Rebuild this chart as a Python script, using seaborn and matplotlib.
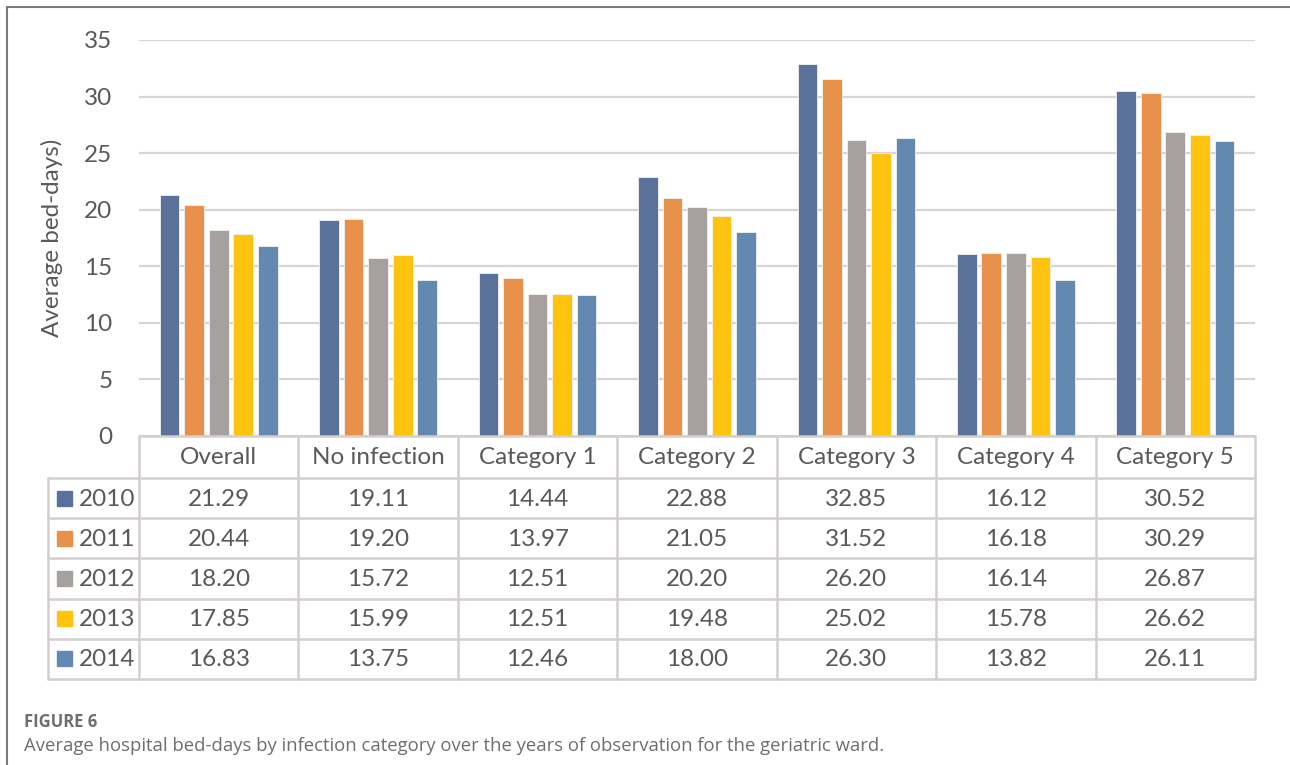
import matplotlib
matplotlib.use("Agg")
import matplotlib.pyplot as plt
import seaborn as sns
import pandas as pd
import numpy as np
from matplotlib.patches import Rectangle
from matplotlib.lines import Line2D

categories = ["Overall", "No infection", "Category 1", "Category 2", "Category 3", "Category 4", "Category 5"]
years = ["2010", "2011", "2012", "2013", "2014"]
v2010 = [21.29, 19.11, 14.44, 22.88, 32.85, 16.12, 30.52]
v2011 = [20.44, 19.20, 13.97, 21.05, 31.52, 16.18, 30.29]
v2012 = [18.20, 15.72, 12.51, 20.20, 26.20, 16.14, 26.87]
v2013 = [17.85, 15.99, 12.51, 19.48, 25.02, 15.78, 26.62]
v2014 = [16.83, 13.75, 12.46, 18.00, 26.30, 13.82, 26.11]
yticks = [0, 5, 10, 15, 20, 25, 30, 35]
colors = ["#5A7299", "#E8914A", "#A6A09E", "#FFC20F", "#6389B1"]

series = [v2010, v2011, v2012, v2013, v2014]
rows = []
for y, vals in zip(years, series):
    for c, v in zip(categories, vals):
        rows.append({"category": c, "year": y, "value": v})
df = pd.DataFrame(rows)

sns.set_theme(style="white")
plt.rcParams["font.family"] = ["Lato", "DejaVu Sans"]
TXT = "#595959"
FS = 17.5

W, H = 1290, 765
fig = plt.figure(figsize=(W / 100, H / 100), dpi=100)

def fx(px):
    return px / W

def fy(py):
    return 1 - py / H

# main bar axes
L, R, T, B = 139, 1255, 40, 436
ax = fig.add_axes([fx(L), fy(B), fx(R - L), (B - T) / H])
sns.barplot(data=df, x="category", y="value", hue="year", order=categories,
            hue_order=years, palette=colors, saturation=1, width=0.77, gap=0.2,
            edgecolor="#F2F2F2", linewidth=0.6, legend=False, ax=ax, zorder=3)
ax.set_xlim(-0.5, len(categories) - 0.5)
ax.set_ylim(0, 35)
ax.set_yticks(yticks)
ax.set_yticklabels([str(t) for t in yticks], fontsize=FS, color=TXT)
ax.tick_params(axis="y", length=0, pad=19)
ax.set_xticks([])
ax.set_xlabel("")
ax.set_ylabel("Average bed-days)", fontsize=FS, color=TXT)
ax.yaxis.set_label_coords((63 - L) / (R - L), 0.5)
for s in ax.spines.values():
    s.set_visible(False)
ax.grid(axis="y", color="#D9D4D2", linewidth=1.6, zorder=0)
ax.set_axisbelow(True)

# data table axes
TT, TB = 436, 679
tax = fig.add_axes([fx(L), fy(TB), fx(R - L), (TB - TT) / H])
tax.set_xlim(-0.5, len(categories) - 0.5)
tax.set_ylim(TB - TT, 0)
tax.axis("off")
unit = (R - L) / len(categories)
left_x = -0.5 - (L - 48) / unit
head_h = 42
row_h = (TB - TT - head_h) / len(years)
lc = "#D4CFCD"
lw = 1.8
tax.add_line(Line2D([-0.5, 6.5], [0, 0], color=lc, lw=lw, clip_on=False))
for k in range(len(years) + 1):
    yy = head_h + k * row_h
    tax.add_line(Line2D([left_x, 6.5], [yy, yy], color=lc, lw=lw, clip_on=False))
for i in range(len(categories) + 1):
    xx = -0.5 + i
    tax.add_line(Line2D([xx, xx], [0, TB - TT], color=lc, lw=lw, clip_on=False))
tax.add_line(Line2D([left_x, left_x], [head_h, TB - TT], color=lc, lw=lw, clip_on=False))

for i, c in enumerate(categories):
    tax.text(i, head_h / 2 + 1, c, ha="center", va="center", fontsize=FS, color=TXT, clip_on=False)
for k, (y, vals, col) in enumerate(zip(years, series, colors)):
    yc = head_h + (k + 0.5) * row_h
    sq = 15 / unit
    tax.add_patch(Rectangle((left_x + 9 / unit, yc - 7.5), sq, 15, color=col, clip_on=False))
    tax.text(left_x + 31 / unit, yc + 1, y, ha="left", va="center", fontsize=FS, color=TXT, clip_on=False)
    for i, v in enumerate(vals):
        tax.text(i, yc + 1, f"{v:.2f}", ha="center", va="center", fontsize=FS, color=TXT, clip_on=False)

# frame
fig.add_artist(Line2D([fx(7), fx(W)], [fy(7), fy(7)], color="#7A7A7A", lw=1.5))
fig.add_artist(Line2D([fx(7), fx(7)], [fy(7), fy(H)], color="#7A7A7A", lw=1.5))

# caption
fig.text(fx(24), fy(722), "FIGURE 6", fontsize=12, fontweight="bold", color="#6E6E6E",
         family=["Open Sans", "DejaVu Sans"], va="center", ha="left")
fig.text(fx(24), fy(746), "Average hospital bed-days by infection category over the years of observation for the geriatric ward.",
         fontsize=13.3, color="#6E6E6E", family=["Open Sans", "DejaVu Sans"], va="center", ha="left")

fig.savefig("out.png", dpi=100)
